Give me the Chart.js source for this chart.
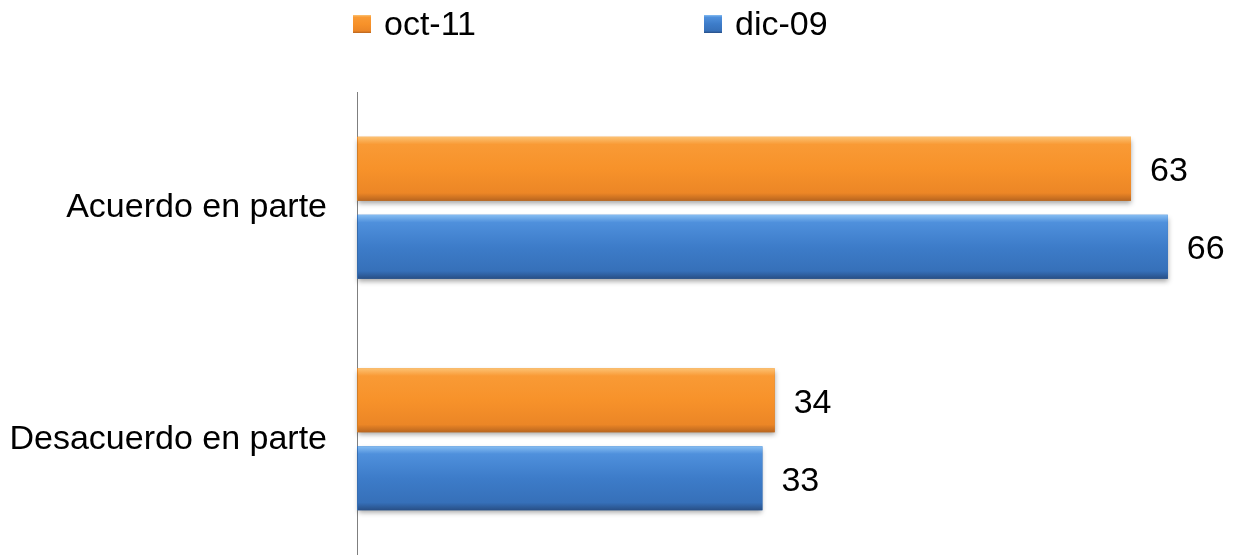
<!DOCTYPE html>
<html>
<head>
<meta charset="utf-8">
<script src="https://cdn.jsdelivr.net/npm/chart.js@4.4.1/dist/chart.umd.min.js"></script>
<style>
  html, body { margin: 0; padding: 0; background: #fff; }
  #wrap { width: 1234px; height: 555px; position: relative; }
</style>
</head>
<body>
<div id="wrap"><canvas id="chart"></canvas></div>
<script>
const categories = ['Acuerdo en parte', 'Desacuerdo en parte'];
const seriesNames = ['oct-11', 'dic-09'];
const oct11 = [63, 34];
const dic09 = [66, 33];
const xMax = 70;

const FONT = "'Liberation Sans', Arial, sans-serif";
const baseColors = ['#f7932c', '#3d7cc9'];
const shades = [
  [[0, '#fcc273'], [0.12, '#f99a35'], [0.5, '#f7922a'], [0.88, '#ec8626'], [1, '#b8651f']],
  [[0, '#86bdf2'], [0.12, '#4f90dc'], [0.5, '#3d7cc9'], [0.88, '#3670b9'], [1, '#284f86']]
];

// bevelled bars with a soft drop shadow, drawn over the library's bars
const bevel = {
  id: 'bevel',
  afterDatasetsDraw(chart) {
    const ctx = chart.ctx;
    chart.data.datasets.forEach((ds, i) => {
      chart.getDatasetMeta(i).data.forEach(bar => {
        const top = bar.y - bar.height / 2;
        const left = bar.base, w = bar.x - bar.base, h = bar.height;
        ctx.save();
        ctx.shadowColor = 'rgba(0,0,0,0.35)';
        ctx.shadowBlur = 5;
        ctx.shadowOffsetY = 3;
        const g = ctx.createLinearGradient(0, top, 0, top + h);
        shades[i].forEach(([o, c]) => g.addColorStop(o, c));
        ctx.fillStyle = g;
        ctx.fillRect(left + 1, top, w - 1, h);
        ctx.restore();
      });
    });
  }
};

const valueLabels = {
  id: 'valueLabels',
  afterDatasetsDraw(chart) {
    const ctx = chart.ctx;
    ctx.save();
    ctx.font = '34px ' + FONT;
    ctx.fillStyle = '#000';
    ctx.textAlign = 'left';
    ctx.textBaseline = 'middle';
    chart.data.datasets.forEach((ds, i) => {
      chart.getDatasetMeta(i).data.forEach((bar, j) => {
        ctx.fillText(ds.data[j], bar.x + 19, bar.y + 3);
      });
    });
    ctx.restore();
  }
};

const legendPos = [353, 704];
const topLegend = {
  id: 'topLegend',
  afterDraw(chart) {
    const ctx = chart.ctx;
    ctx.save();
    ctx.font = '34px ' + FONT;
    ctx.textBaseline = 'middle';
    chart.data.datasets.forEach((ds, i) => {
      const x = legendPos[i];
      const g = ctx.createLinearGradient(0, 15, 0, 33);
      shades[i].forEach(([o, c]) => g.addColorStop(o, c));
      ctx.fillStyle = g;
      ctx.fillRect(x, 15, 18, 18);
      ctx.fillStyle = '#000';
      ctx.fillText(ds.label, x + 31, 26);
    });
    ctx.restore();
  }
};

new Chart(document.getElementById('chart'), {
  type: 'bar',
  data: {
    labels: categories,
    datasets: [
      { label: seriesNames[0], data: oct11, backgroundColor: baseColors[0] },
      { label: seriesNames[1], data: dic09, backgroundColor: baseColors[1] }
    ]
  },
  options: {
    indexAxis: 'y',
    responsive: true,
    maintainAspectRatio: false,
    animation: false,
    categoryPercentage: 0.674,
    barPercentage: 0.82,
    layout: { padding: { top: 92, right: 17, bottom: 0, left: 0 } },
    plugins: { legend: { display: false }, tooltip: { enabled: false } },
    scales: {
      x: { display: false, min: 0, max: xMax },
      y: {
        grid: { display: false, drawTicks: false },
        border: { display: true, color: '#7f7f7f', width: 1 },
        ticks: { color: '#000', padding: 30, font: { family: FONT, size: 34 } },
        afterFit: s => { s.width = 357; s.paddingTop = 0; s.paddingBottom = 0; }
      }
    }
  },
  plugins: [bevel, valueLabels, topLegend]
});
</script>
</body>
</html>
